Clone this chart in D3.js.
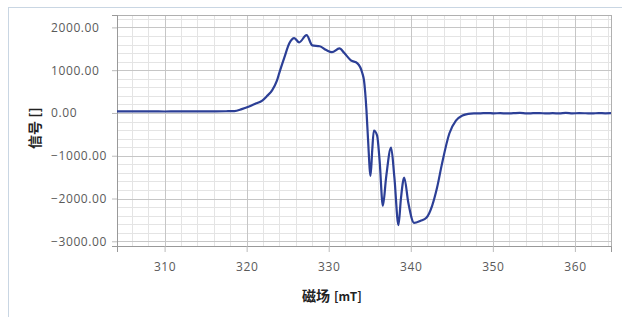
<!DOCTYPE html>
<html>
<head>
<meta charset="utf-8">
<script src="https://cdn.jsdelivr.net/npm/d3@7"></script>
<style>
  body { margin: 0; background: #fff; }
  svg { display: block; }
  .tick-label { font-family: "Open Sans", "Noto Sans", sans-serif; font-size: 12px; fill: #5a5a5a; letter-spacing: 0.6px; }
  .axis-title { font-family: "Noto Sans CJK SC", sans-serif; font-size: 14px; font-weight: bold; fill: #222; }
</style>
</head>
<body>
<svg id="chart"></svg>
<script>
const width = 622, height = 317;
const plotLeft = 117, plotRight = 611, plotTop = 15, plotBottom = 246;

// field in mT
const fieldMT = [
  304.2, 305.5, 307, 308.5, 310, 311.5, 313, 314.5, 316, 317.5, 318.5,
  319.4, 320.3, 321.1, 321.9, 322.5, 323.1, 323.7, 324.0, 324.6, 325.2, 325.8,
  326.4, 327.3, 328.0, 328.9, 329.7, 330.4, 331.3, 331.9, 332.7, 333.5, 334.1,
  334.3, 334.6, 334.8, 335.1, 335.3, 335.5, 335.9, 336.2, 336.6, 337.0, 337.6,
  338.0, 338.5, 338.8, 339.2, 339.7, 340.4, 341.2, 341.9, 342.6, 343.2, 343.8,
  344.7, 345.5, 346.3, 347.0, 347.7,
  348.5, 349.3, 350.1, 350.9, 351.7, 352.5, 353.3, 354.1, 354.9, 355.7, 356.5,
  357.3, 358.1, 358.9, 359.7, 360.5, 361.3, 362.1, 362.9, 363.7, 364.4
];
// signal (arbitrary units)
const signal = [
  35, 37, 35, 36, 34, 36, 35, 36, 37, 40, 45,
  90, 150, 220, 290, 400, 530, 760, 950, 1300, 1630, 1750,
  1650, 1820, 1580, 1560, 1470, 1420, 1510, 1400, 1230, 1160, 930,
  760, 60, -650, -1470, -880, -410, -530, -1110, -2170, -1500, -810,
  -1500, -2620, -2000, -1510, -2100, -2570, -2520, -2450, -2170, -1750, -1190,
  -480, -180, -60, -20, -10,
  -8, -2, -10, -4, -12, -6, 0, -10, -6, -2, -12,
  -6, -9, 0, -10, -4, -7, -12, -2, -8, -6
];

const xTicks = [310, 320, 330, 340, 350, 360];
const yTicks = [2000, 1000, 0, -1000, -2000, -3000];
const xTitle = "磁场";
const xUnit = "[mT]";
const yTitle = "信号 []";

const svg = d3.select('#chart').attr('width', width).attr('height', height);

// outer frame (cut off at right/bottom)
svg.append('rect')
  .attr('x', 8.5).attr('y', 7.5)
  .attr('width', width + 10).attr('height', height + 10)
  .attr('fill', 'none').attr('stroke', '#c9d6e3').attr('stroke-width', 1);

const x = d3.scaleLinear().domain([304.2, 364.4]).range([plotLeft, plotRight]);
const y = d3.scaleLinear().domain([-3110, 2290]).range([plotBottom, plotTop]);

// minor grid
const xMinor = d3.range(306, 365, 2).filter(v => v % 10 !== 0);
const yMinor = d3.range(-3000, 2300, 200).filter(v => v % 1000 !== 0);
svg.append('g').selectAll('line').data(xMinor).join('line')
  .attr('x1', d => Math.round(x(d)) + 0.5).attr('x2', d => Math.round(x(d)) + 0.5)
  .attr('y1', plotTop).attr('y2', plotBottom)
  .attr('stroke', '#e4e4e4');
svg.append('g').selectAll('line').data(yMinor).join('line')
  .attr('y1', d => Math.round(y(d)) + 0.5).attr('y2', d => Math.round(y(d)) + 0.5)
  .attr('x1', plotLeft).attr('x2', plotRight)
  .attr('stroke', '#e4e4e4');

// major grid
svg.append('g').selectAll('line').data(xTicks).join('line')
  .attr('x1', d => Math.round(x(d)) + 0.5).attr('x2', d => Math.round(x(d)) + 0.5)
  .attr('y1', plotTop).attr('y2', plotBottom)
  .attr('stroke', '#c6c6c6');
svg.append('g').selectAll('line').data(yTicks).join('line')
  .attr('y1', d => Math.round(y(d)) + 0.5).attr('y2', d => Math.round(y(d)) + 0.5)
  .attr('x1', plotLeft).attr('x2', plotRight)
  .attr('stroke', '#c6c6c6');

// plot border
svg.append('rect')
  .attr('x', plotLeft + 0.5).attr('y', plotTop + 0.5)
  .attr('width', plotRight - plotLeft).attr('height', plotBottom - plotTop)
  .attr('fill', 'none').attr('stroke', '#b0b0b0');

// axes
const xAxis = svg.append('g')
  .attr('transform', `translate(0,${plotBottom})`)
  .call(d3.axisBottom(x).tickValues(xTicks).tickSize(6).tickPadding(10).tickFormat(d3.format('d')));
xAxis.select('.domain').attr('stroke', '#999');
xAxis.selectAll('.tick line').attr('stroke', '#bbb');
xAxis.selectAll('.tick text').attr('class', 'tick-label').attr('fill', null);

const yAxis = svg.append('g')
  .attr('transform', `translate(${plotLeft},0)`)
  .call(d3.axisLeft(y).tickValues(yTicks).tickSize(5).tickFormat(d3.format('.2f')));
yAxis.select('.domain').attr('stroke', '#999');
yAxis.selectAll('.tick line').attr('stroke', '#bbb');
yAxis.selectAll('.tick text')
  .attr('class', 'tick-label').attr('fill', null)
  .attr('text-anchor', 'start')
  .attr('x', 51 - plotLeft);

// curve
const line = d3.line().x((d, i) => x(fieldMT[i])).y(d => y(d)).curve(d3.curveMonotoneX);
svg.append('path')
  .datum(signal)
  .attr('d', line)
  .attr('fill', 'none')
  .attr('stroke', '#2c3f96')
  .attr('stroke-width', 2.2)
  .attr('stroke-linejoin', 'round');

// axis titles
const xt = svg.append('text')
  .attr('class', 'axis-title')
  .attr('x', 302).attr('y', 301);
xt.append('tspan').text(xTitle);
xt.append('tspan').attr('font-size', 12).attr('dx', 4).text(xUnit);

svg.append('text')
  .attr('class', 'axis-title')
  .attr('text-anchor', 'middle')
  .attr('transform', 'translate(40,128) rotate(-90)')
  .text(yTitle);
</script>
</body>
</html>
